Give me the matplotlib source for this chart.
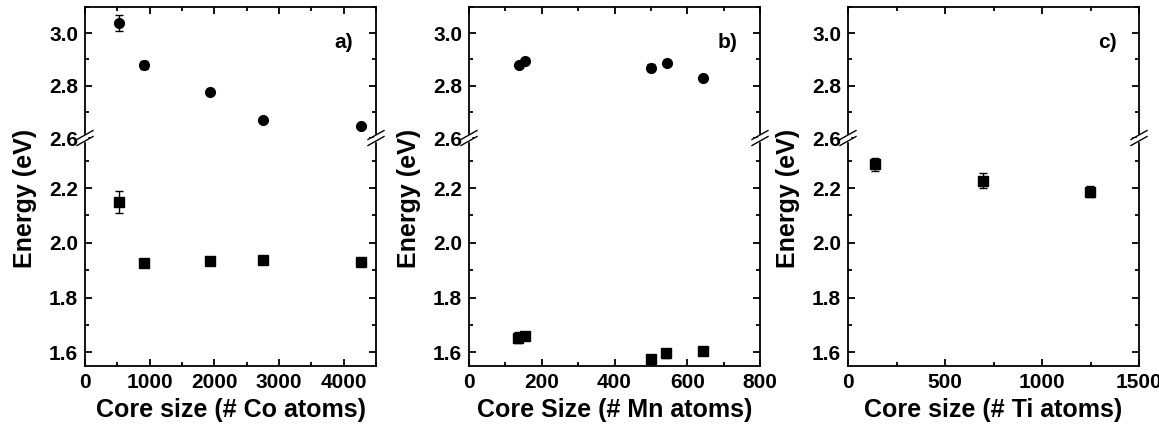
import numpy as np
import matplotlib
matplotlib.use('Agg')
import matplotlib.pyplot as plt
from matplotlib.ticker import MultipleLocator, FormatStrFormatter

plt.rcParams['font.family'] = ['Liberation Sans', 'DejaVu Sans']
plt.rcParams['font.weight'] = 'bold'
plt.rcParams['axes.labelweight'] = 'bold'

# Panel a: Co
co_circ_x = [520, 920, 1940, 2760, 4270]
co_circ_y = [3.04, 2.879, 2.775, 2.667, 2.646]
co_circ_err = [0.03, 0.015, 0.008, 0.006, 0.008]
co_sq_x = [520, 920, 1940, 2760, 4270]
co_sq_y = [2.149, 1.925, 1.935, 1.938, 1.930]
co_sq_err = [0.04, 0.015, 0.006, 0.012, 0.006]

# Panel b: Mn
mn_circ_x = [137, 155, 499, 543, 642]
mn_circ_y = [2.879, 2.894, 2.869, 2.886, 2.829]
mn_circ_err = [0.012, 0.01, 0.015, 0.01, 0.01]
mn_sq_x = [134, 154, 499, 541, 642]
mn_sq_y = [1.653, 1.659, 1.577, 1.596, 1.606]
mn_sq_err = [0.02, 0.01, 0.015, 0.015, 0.01]

# Panel c: Ti
ti_sq_x = [139, 697, 1247]
ti_sq_y = [2.287, 2.227, 2.187]
ti_sq_err = [0.024, 0.028, 0.02]

panels = [
    dict(left=85, xmax=4500, xmaj=1000, xmin=500, tag='a)',
         xlabel='Core size (# Co atoms)',
         circ=(co_circ_x, co_circ_y, co_circ_err), sq=(co_sq_x, co_sq_y, co_sq_err)),
    dict(left=469, xmax=800, xmaj=200, xmin=100, tag='b)',
         xlabel='Core Size (# Mn atoms)',
         circ=(mn_circ_x, mn_circ_y, mn_circ_err), sq=(mn_sq_x, mn_sq_y, mn_sq_err)),
    dict(left=848, xmax=1500, xmaj=500, xmin=250, tag='c)',
         xlabel='Core size (# Ti atoms)',
         circ=None, sq=(ti_sq_x, ti_sq_y, ti_sq_err)),
]

W, H = 1159, 440
fig = plt.figure(figsize=(W / 100, H / 100), dpi=100)

ax_w = 291
top_px, brk_px, bot_px = 7, 138, 366
lw = 1.3


def style(ax):
    for s in ax.spines.values():
        s.set_linewidth(lw)
    ax.tick_params(which='both', direction='in', width=lw, labelsize=15, pad=5)
    ax.tick_params(which='major', length=5)
    ax.tick_params(which='minor', length=3)


for p in panels:
    x0 = p['left'] / W
    w = ax_w / W
    ax_hi = fig.add_axes([x0, (H - brk_px) / H, w, (brk_px - top_px) / H])
    ax_lo = fig.add_axes([x0, (H - bot_px) / H, w, (bot_px - brk_px) / H], sharex=ax_hi)

    ax_hi.set_ylim(2.6, 3.1)
    ax_lo.set_ylim(1.55, 2.383)
    ax_hi.set_xlim(0, p['xmax'])

    for ax in (ax_hi, ax_lo):
        style(ax)
        ax.xaxis.set_major_locator(MultipleLocator(p['xmaj']))
        ax.xaxis.set_minor_locator(MultipleLocator(p['xmin']))
        ax.yaxis.set_major_locator(MultipleLocator(0.2))
        ax.yaxis.set_minor_locator(MultipleLocator(0.1))
        ax.yaxis.set_major_formatter(FormatStrFormatter('%.1f'))

    ax_hi.spines['bottom'].set_visible(False)
    ax_lo.spines['top'].set_visible(False)
    ax_hi.tick_params(which='both', bottom=False, top=True, labelbottom=False,
                      left=True, right=True)
    ax_lo.tick_params(which='both', bottom=True, top=False, left=True, right=True)
    ax_hi.set_yticks([2.6, 2.8, 3.0])

    if p['circ'] is not None:
        cx, cy, ce = p['circ']
        ax_hi.errorbar(cx, cy, yerr=ce, fmt='o', color='black', ms=7,
                       capsize=3, elinewidth=1, capthick=1, clip_on=False, zorder=5)
    sx, sy, se = p['sq']
    ax_lo.errorbar(sx, sy, yerr=se, fmt='s', color='black', ms=6.5,
                   capsize=3, elinewidth=1, capthick=1, clip_on=False, zorder=5)

    ax_hi.text(0.89, 0.73, p['tag'], transform=ax_hi.transAxes, fontsize=15,
               ha='center', va='center')

    ax_lo.set_xlabel(p['xlabel'], fontsize=18, labelpad=4)
    fig.text((p['left'] - 60) / W, 1 - 198 / H, 'Energy (eV)', rotation=90,
             fontsize=18, ha='center', va='center')

    # break marks on both sides
    yb = 1 - brk_px / H
    for xs in (x0, x0 + w):
        fig.add_artist(plt.Rectangle((xs - 2 / W, yb - 3 / H), 4 / W, 6 / H,
                                     color='white', zorder=1))
        for dy in (-3, 3):
            fig.add_artist(plt.Line2D([xs - 8 / W, xs + 8 / W],
                                      [yb + (dy - 4.5) / H, yb + (dy + 4.5) / H],
                                      color='black', lw=1.0))

fig.savefig('out.png', dpi=100)
